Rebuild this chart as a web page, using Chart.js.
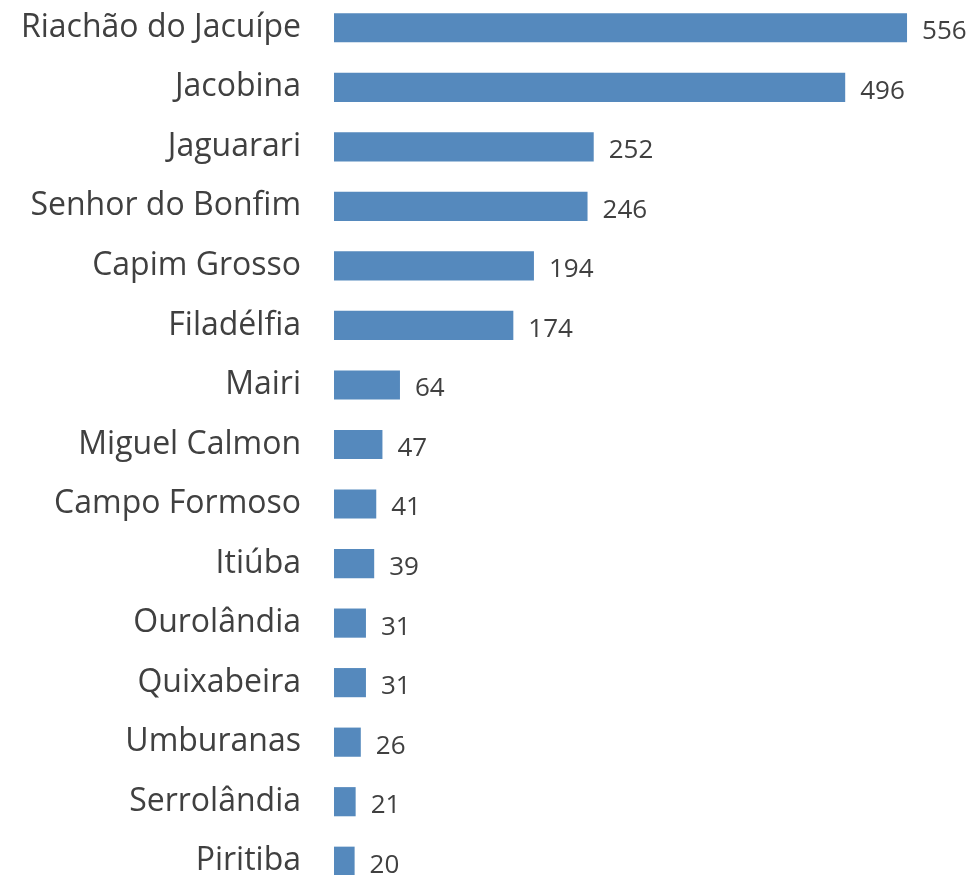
<!DOCTYPE html>
<html lang="pt">
<head>
    <meta charset="UTF-8">
    <title>Municípios</title>
    <script src="https://cdn.jsdelivr.net/npm/chart.js"></script>
    <style>
        html, body { margin: 0; padding: 0; overflow: hidden; background: #fff; }
        #myChart { position: absolute; left: 0; top: -2px; }
    </style>
</head>
<body>
    <canvas id="myChart" width="973" height="893"></canvas>
<script>
    // municípios e quantidades
    var municipios = ['Riachão do Jacuípe', 'Jacobina', 'Jaguarari', 'Senhor do Bonfim', 'Capim Grosso',
        'Filadélfia', 'Mairi', 'Miguel Calmon', 'Campo Formoso', 'Itiúba', 'Ourolândia',
        'Quixabeira', 'Umburanas', 'Serrolândia', 'Piritiba'];
    var quantidades = [556, 496, 252, 246, 194, 174, 64, 47, 41, 39, 31, 31, 26, 21, 20];

    var corBarra = '#5589bd';
    var corTexto = '#404040';

    // escreve o valor ao lado de cada barra
    var rotulos = {
        id: 'rotulos',
        afterDatasetsDraw: function (chart) {
            var ctx = chart.ctx;
            var meta = chart.getDatasetMeta(0);
            ctx.save();
            ctx.font = '26px "Open Sans"';
            ctx.fillStyle = corTexto;
            ctx.textAlign = 'left';
            ctx.textBaseline = 'middle';
            meta.data.forEach(function (bar, i) {
                ctx.fillText(String(quantidades[i]), bar.x + 15, bar.y + 4);
            });
            ctx.restore();
        }
    };

    var ctx = document.getElementById('myChart').getContext('2d');
    var myChart = new Chart(ctx, {
        type: 'bar',
        data: {
            labels: municipios,
            datasets: [{
                data: quantidades,
                backgroundColor: corBarra,
                borderWidth: 0,
                barPercentage: 0.49,
                categoryPercentage: 1
            }]
        },
        options: {
            indexAxis: 'y',
            responsive: false,
            animation: false,
            layout: { padding: 0 },
            plugins: {
                legend: { display: false },
                tooltip: { enabled: false }
            },
            scales: {
                x: {
                    min: 0,
                    max: 620,
                    display: false
                },
                y: {
                    grid: { display: false },
                    border: { display: false },
                    ticks: {
                        color: corTexto,
                        font: { family: 'Open Sans', size: 32 },
                        padding: 25
                    },
                    afterFit: function (axis) {
                        axis.width = 334;
                        axis.paddingTop = 0;
                        axis.paddingBottom = 0;
                    }
                }
            }
        },
        plugins: [rotulos]
    });
</script>
</body>
</html>
